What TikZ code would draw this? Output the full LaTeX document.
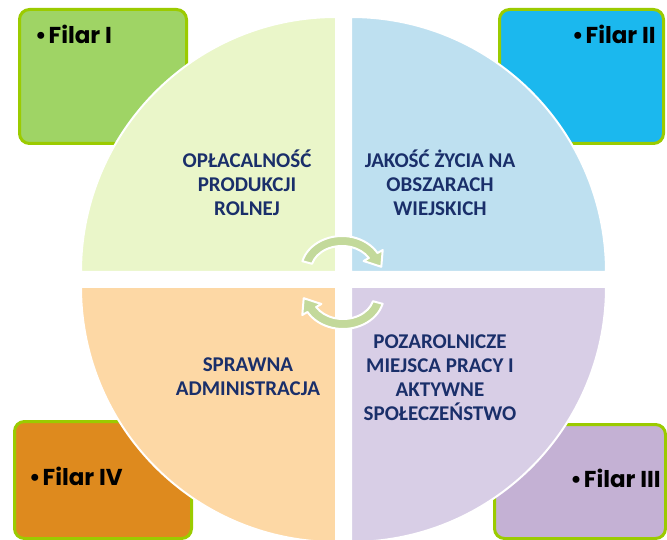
\documentclass[tikz,border=0pt]{standalone}
\usepackage{fontspec}
\setmainfont{Carlito}
\newfontfamily\filarfont{Poppins}
\usepackage{xcolor}
\usetikzlibrary{positioning}
\definecolor{navytext}{HTML}{1A2F6A}
\definecolor{bordergreen}{HTML}{9BCB00}
\definecolor{filarone}{HTML}{9FD465}
\definecolor{filartwo}{HTML}{1BB8EE}
\definecolor{filarthree}{HTML}{C4B1D4}
\definecolor{filarfour}{HTML}{DE8A1E}
\definecolor{quadone}{HTML}{EAF6C9}
\definecolor{quadtwo}{HTML}{BEE0F0}
\definecolor{quadthree}{HTML}{D8CEE6}
\definecolor{quadfour}{HTML}{FDD8A5}
\definecolor{arrowgreen}{HTML}{C3D99B}
\tikzset{
cyclearrow/.pic={
\fill[arrowgreen, draw=white, line width=2pt, line join=round]
  (165:41 and 34) arc[start angle=165, end angle=30, x radius=41, y radius=34]
  -- (40.7,20) -- (39.3,3.2) -- (21.6,9) -- (30:31 and 24)
  arc[start angle=30, end angle=165, x radius=31, y radius=24] -- cycle;
}
}

\begin{document}
\begin{tikzpicture}[
x=1pt, y=1pt,
filarbox/.style={rectangle, rounded corners=10pt, draw=bordergreen, line width=3pt},
filarlabel/.style={inner sep=0pt, font=\filarfont\bfseries\fontsize{23}{26}\selectfont},
quadrant/.style={draw=white, line width=2pt},
pillartext/.style={align=center, text=navytext, inner sep=0pt, font=\bfseries\fontsize{21}{24}\selectfont},
]
\useasboundingbox (0,0) rectangle (667,539);
\clip (0,0) rectangle (667,539);

%Boxes
\node[filarbox, fill=filarone, minimum width=167pt, minimum height=134pt]	(box1) at (103,462.5)	{};
\node[filarbox, fill=filartwo, minimum width=164pt, minimum height=134pt]	(box2) at (581.5,462.5)	{};
\node[filarbox, fill=filarfour, minimum width=177pt, minimum height=117pt]	(box4) at (103,59)		{};
\node[filarbox, fill=filarthree, minimum width=171pt, minimum height=114pt]	(box3) at (580,57.5)	{};

%Quadrants
\fill[quadrant, fill=quadone]   (336,267) -- ++(-255,0) arc[start angle=180, end angle=90, radius=255] -- cycle;
\fill[quadrant, fill=quadtwo]   (351,267) -- ++(0,255) arc[start angle=90, end angle=0, radius=255] -- cycle;
\fill[quadrant, fill=quadfour]  (336,252) -- ++(-255,0) arc[start angle=180, end angle=270, radius=255] -- cycle;
\fill[quadrant, fill=quadthree] (351,252) -- ++(255,0) arc[start angle=0, end angle=-90, radius=255] -- cycle;

%Cycle arrows
\pic at (342,269) {cyclearrow};
\pic[rotate=180] at (343,244) {cyclearrow};

%Labels
\node[filarlabel, anchor=base west]	(filar1) at (35,495)	{\textbullet\hspace{2pt}Filar I};
\node[filarlabel, anchor=base east]	(filar2) at (656,495)	{\textbullet\hspace{2pt}Filar II};
\node[filarlabel, anchor=base west]	(filar4) at (29,54)		{\textbullet\hspace{2pt}Filar IV};
\node[filarlabel, anchor=base east]	(filar3) at (661,52)	{\textbullet\hspace{2pt}Filar III};

%Texts
\node[pillartext]	(text1) at (247,356)	{OPŁACALNOŚĆ\\PRODUKCJI\\ROLNEJ};
\node[pillartext]	(text2) at (440,356)	{JAKOŚĆ ŻYCIA NA\\OBSZARACH\\WIEJSKICH};
\node[pillartext]	(text4) at (248,162)	{SPRAWNA\\ADMINISTRACJA};
\node[pillartext]	(text3) at (440,161.5)	{POZAROLNICZE\\MIEJSCA PRACY I\\AKTYWNE\\SPOŁECZEŃSTWO};
\end{tikzpicture}
\end{document}
